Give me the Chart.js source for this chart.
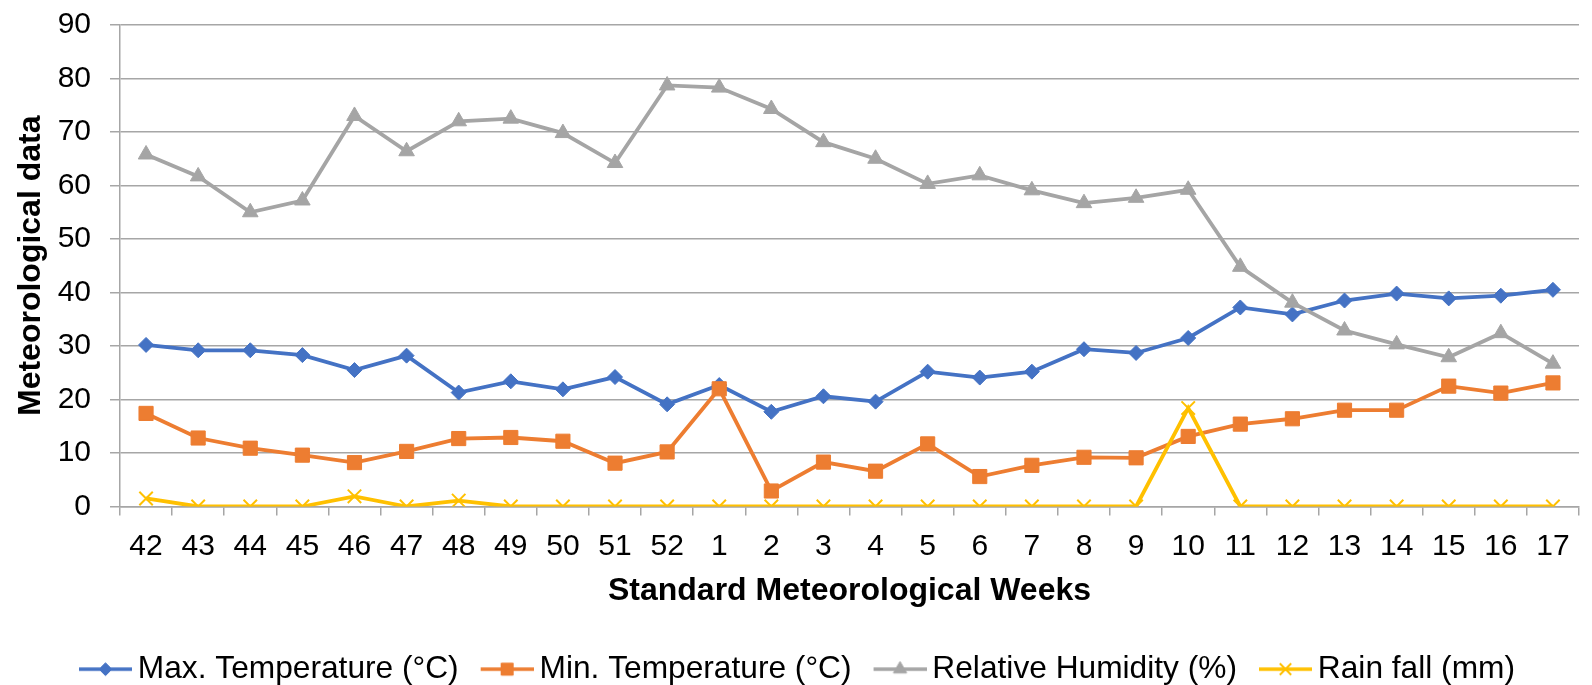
<!DOCTYPE html>
<html>
<head>
<meta charset="utf-8">
<title>Meteorological data</title>
<script src="https://cdn.jsdelivr.net/npm/chart.js@4.4.0/dist/chart.umd.min.js"></script>
<style>
    html, body { margin: 0; padding: 0; background: #fff; }
    #wrap { width: 1592px; height: 685px; }
</style>
</head>
<body>
<div id="wrap"><canvas id="chart" width="1592" height="685"></canvas></div>
<script>
// Standard meteorological weeks (Oct -> Apr)
const weeks = ['42', '43', '44', '45', '46', '47', '48', '49', '50', '51', '52',
    '1', '2', '3', '4', '5', '6', '7', '8', '9', '10', '11', '12', '13', '14', '15', '16', '17'];

const maxTemp = [30.2, 29.2, 29.2, 28.3, 25.5, 28.2, 21.3, 23.4, 21.9, 24.2, 19.1,
    22.7, 17.7, 20.6, 19.6, 25.2, 24.1, 25.2, 29.4, 28.7, 31.5, 37.2, 35.9, 38.5, 39.8, 38.9, 39.4, 40.5];

const minTemp = [17.4, 12.8, 10.9, 9.6, 8.2, 10.3, 12.7, 12.9, 12.2, 8.1, 10.2,
    22.0, 2.9, 8.3, 6.6, 11.7, 5.6, 7.7, 9.2, 9.1, 13.1, 15.4, 16.4, 18.0, 18.0, 22.5, 21.2, 23.1];

const humidity = [65.8, 61.7, 55.0, 57.2, 73.0, 66.4, 72.0, 72.5, 69.8, 64.2, 78.7,
    78.3, 74.3, 68.1, 65.0, 60.3, 61.9, 59.1, 56.7, 57.7, 59.2, 44.8, 38.1, 32.9, 30.3, 27.9, 32.4, 26.7];

const rainfall = [1.5, 0, 0, 0, 1.9, 0, 1.1, 0, 0, 0, 0,
    0, 0, 0, 0, 0, 0, 0, 0, 0, 18.4, 0, 0, 0, 0, 0, 0, 0];

const yTicks = [0, 10, 20, 30, 40, 50, 60, 70, 80, 90];

const GRID = '#a6a6a6';
Chart.defaults.font.family = "'Liberation Sans', Arial, sans-serif";
Chart.defaults.color = '#000';

const datasets = [
    {
        label: 'Max. Temperature (°C)', data: maxTemp,
        borderColor: '#4472C4', backgroundColor: '#4472C4',
        pointStyle: 'rectRot', pointRadius: 7.5, pointBorderWidth: 1, order: 3
    },
    {
        label: 'Min. Temperature (°C)', data: minTemp,
        borderColor: '#ED7D31', backgroundColor: '#ED7D31',
        pointStyle: 'rect', pointRadius: 10, pointBorderWidth: 1, order: 2
    },
    {
        label: 'Relative Humidity (%)', data: humidity,
        borderColor: '#A5A5A5', backgroundColor: '#A5A5A5',
        pointStyle: 'triangle', pointRadius: 9, pointBorderWidth: 1, order: 1
    },
    {
        label: 'Rain fall (mm)', data: rainfall,
        borderColor: '#FFC000', backgroundColor: '#FFC000',
        pointStyle: 'crossRot', pointRadius: 9.5, pointBorderWidth: 2, order: 0
    }
];
datasets.forEach(d => {
    d.borderWidth = 3.8;
    d.tension = 0;
    d.pointHoverRadius = d.pointRadius;
});

// legend swatch: a short line with the marker in the middle (like Excel)
function makeIcon(ds) {
    const c = document.createElement('canvas');
    c.width = 78;
    c.height = 26;
    const g = c.getContext('2d');
    g.strokeStyle = ds.borderColor;
    g.lineWidth = 3.5;
    g.beginPath();
    g.moveTo(25, 13);
    g.lineTo(78, 13);
    g.stroke();
    g.fillStyle = ds.backgroundColor;
    g.lineWidth = ds.pointBorderWidth;
    Chart.helpers.drawPoint(g, {
        pointStyle: ds.pointStyle,
        radius: ds.pointRadius * 0.85,
        borderWidth: ds.pointBorderWidth,
        rotation: 0
    }, 51.5, 13);
    return c;
}
const icons = datasets.map(makeIcon);

new Chart(document.getElementById('chart'), {
    type: 'line',
    data: { labels: weeks, datasets: datasets },
    options: {
        responsive: false,
        animation: false,
        layout: { padding: { top: 25, right: 13, bottom: -10, left: 0 } },
        plugins: {
            tooltip: { enabled: false },
            legend: {
                position: 'bottom',
                labels: {
                    usePointStyle: true,
                    pointStyleWidth: 58,
                    padding: 7,
                    color: '#000',
                    font: { size: 31.7 },
                    sort: (a, b) => a.datasetIndex - b.datasetIndex,
                    generateLabels(chart) {
                        const items = Chart.defaults.plugins.legend.labels.generateLabels(chart);
                        items.forEach(it => { it.pointStyle = icons[it.datasetIndex]; });
                        return items;
                    }
                }
            }
        },
        scales: {
            x: {
                offset: true,
                grid: {
                    display: true, drawOnChartArea: false, drawTicks: true,
                    tickLength: 9, color: GRID, lineWidth: 1.5, offset: true
                },
                border: { display: true, color: GRID, width: 1.5 },
                ticks: { font: { size: 30 }, padding: 13, maxRotation: 0, autoSkip: false },
                title: {
                    display: true, text: 'Standard Meteorological Weeks',
                    font: { size: 32, weight: 'bold' }, padding: { top: 0, bottom: 36 }
                },
                afterFit(s) {
                    s.height = 139.8;
                    s.paddingLeft = 0;
                    s.paddingRight = 0;
                }
            },
            y: {
                min: 0,
                max: 90,
                afterBuildTicks(s) { s.ticks = yTicks.map(v => ({ value: v })); },
                grid: { color: GRID, lineWidth: 1.5, tickLength: 10 },
                border: { display: true, color: GRID, width: 1.5 },
                ticks: { font: { size: 30 }, padding: 19 },
                title: {
                    display: true, text: 'Meteorological data',
                    font: { size: 32, weight: 'bold' }, padding: { top: 12, bottom: 0 }
                },
                afterFit(s) {
                    s.width = 120;
                    s.paddingTop = 0;
                    s.paddingBottom = 0;
                }
            }
        }
    }
});
</script>
</body>
</html>
